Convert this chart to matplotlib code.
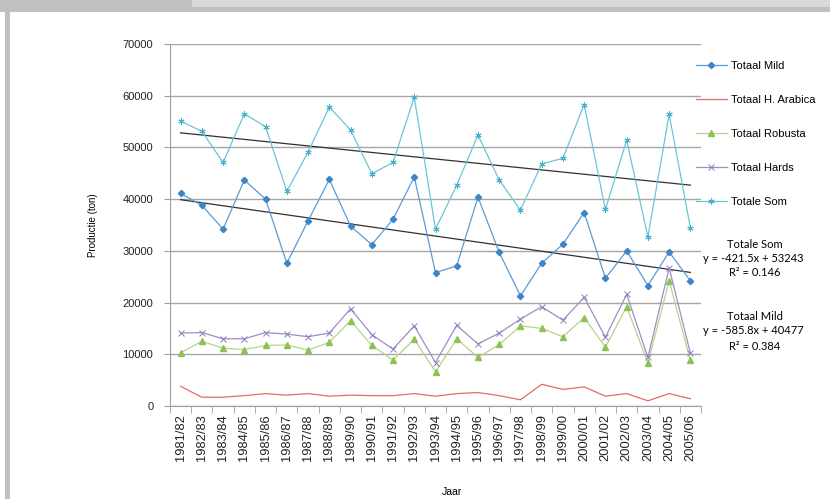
import matplotlib
matplotlib.use("Agg")
import matplotlib.pyplot as plt
from matplotlib.patches import Rectangle
import numpy as np

# harvest years
years = ["1981/82", "1982/83", "1983/84", "1984/85", "1985/86", "1986/87",
         "1987/88", "1988/89", "1989/90", "1990/91", "1991/92", "1992/93",
         "1993/94", "1994/95", "1995/96", "1996/97", "1997/98", "1998/99",
         "1999/00", "2000/01", "2001/02", "2002/03", "2003/04", "2004/05",
         "2005/06"]

# production per category (ton)
totaal_mild = [41100, 38800, 34200, 43700, 40000, 27600, 35800, 43800, 34800,
               31200, 36100, 44300, 25800, 27100, 40400, 29700, 21300, 27600,
               31300, 37400, 24700, 30000, 23300, 29800, 24200]
totaal_arabica = [3800, 1700, 1700, 2000, 2400, 2100, 2400, 1900, 2100, 2000,
                  2000, 2400, 1900, 2400, 2600, 2000, 1200, 4200, 3200, 3700,
                  1900, 2400, 1000, 2400, 1400]
totaal_robusta = [10300, 12500, 11200, 10900, 11700, 11800, 10800, 12300, 16500,
                  11700, 8900, 12900, 6600, 13000, 9400, 11900, 15500, 15000,
                  13400, 17100, 11400, 19200, 8300, 24200, 8800]
totaal_hards = [14100, 14200, 13000, 13000, 14200, 13900, 13400, 14100, 18800,
                13800, 11000, 15500, 8400, 15600, 12000, 14100, 16800, 19200,
                16600, 21000, 13300, 21600, 9400, 26700, 10200]
totale_som = [55100, 53100, 47100, 56500, 54000, 41500, 49100, 57800, 53400,
              44900, 47100, 59700, 34200, 42700, 52400, 43700, 37900, 46800,
              47900, 58300, 38000, 51400, 32700, 56400, 34500]

# linear trend lines (slope, intercept, R^2), x = 1..n
trend_som = (-421.5, 53243, 0.146)
trend_mild = (-585.8, 40477, 0.384)

fig = plt.figure(figsize=(8.30, 4.99), dpi=100)
plt.rcParams["font.family"] = ["Liberation Sans", "DejaVu Sans"]

# window frame around the chart
fig.patches.append(Rectangle((0, 1 - 12 / 499), 1, 12 / 499, transform=fig.transFigure,
                             facecolor="#c0c0c0", edgecolor="none", zorder=0))
fig.patches.append(Rectangle((192 / 830, 1 - 7 / 499), 1, 7 / 499, transform=fig.transFigure,
                             facecolor="#d9d9d9", edgecolor="none", zorder=1))
fig.patches.append(Rectangle((5 / 830, 0), 5 / 830, 1 - 12 / 499, transform=fig.transFigure,
                             facecolor="#c0c0c0", edgecolor="none", zorder=0))

ax = fig.add_axes([170 / 830, 1 - 406 / 499, 531 / 830, 362 / 499])
x = np.arange(len(years))

l_mild, = ax.plot(x, totaal_mild, color="#5b9bd5", lw=0.9, marker="D", ms=3.2,
                  mfc="#3d85c6", mec="#3d85c6", label="Totaal Mild")
l_arab, = ax.plot(x, totaal_arabica, color="#e06c66", lw=0.9, label="Totaal H. Arabica")
l_rob, = ax.plot(x, totaal_robusta, color="#b5d48a", lw=0.9, marker="^", ms=5,
                 mfc="#8dc253", mec="#8dc253", label="Totaal Robusta")
l_hard, = ax.plot(x, totaal_hards, color="#9e8dc6", lw=0.9, marker="x", ms=4.5,
                  mew=0.7, mec="#8e7bbd", label="Totaal Hards")
l_som, = ax.plot(x, totale_som, color="#6cc4d8", lw=0.9, marker=(6, 2, 0), ms=4.5,
                 mew=0.7, mec="#45b0cc", label="Totale Som")

xt = x + 1
for slope, icpt, r2 in (trend_som, trend_mild):
    ax.plot(x, slope * xt + icpt, color="#303030", lw=0.9, zorder=1)

ax.set_xlim(-0.5, len(years) - 0.5)
ax.set_ylim(0, 70000)
ax.set_yticks(range(0, 70001, 10000))
ax.yaxis.grid(True, color="#a6a6a6", lw=1)
ax.set_axisbelow(True)
ax.set_xticks(x)
ax.set_xticklabels(years, rotation=90, fontsize=9.3, color="#222222")
ax.set_xticks(np.arange(len(years) + 1) - 0.5, minor=True)
ax.tick_params(axis="x", which="major", length=0, pad=6)
ax.tick_params(axis="x", which="minor", length=5, color="#a0a0a0")
ax.tick_params(axis="y", length=4, color="#a0a0a0", labelsize=8, labelcolor="#222222", pad=8)
for side in ("top", "right"):
    ax.spines[side].set_visible(False)
for side in ("left", "bottom"):
    ax.spines[side].set_color("#a0a0a0")

ax.set_ylabel("Productie (ton)", fontsize=7, labelpad=18)
ax.set_xlabel("Jaar", fontsize=7.5)
ax.xaxis.set_label_coords(0.53, -0.225)

fig.legend(handles=[l_mild, l_arab, l_rob, l_hard, l_som], loc="upper left",
           bbox_to_anchor=(690 / 830, 1 - 55 / 499), frameon=False, fontsize=8,
           labelspacing=2.17, handlelength=2.8, handletextpad=0.4, borderpad=0)

eq_font = ["Lato", "DejaVu Sans"]
fig.text(755 / 830, 1 - 244 / 499, "Totale Som", ha="center", va="center",
         fontsize=8, family=eq_font)
fig.text(753 / 830, 1 - 258 / 499, "y = %.1fx + %d" % trend_som[:2], ha="center",
         va="center", fontsize=8, family=eq_font)
fig.text(755 / 830, 1 - 272 / 499, "R² = %.3f" % trend_som[2], ha="center",
         va="center", fontsize=8, family=eq_font)
fig.text(755 / 830, 1 - 316 / 499, "Totaal Mild", ha="center", va="center",
         fontsize=8, family=eq_font)
fig.text(753 / 830, 1 - 330 / 499, "y = %.1fx + %d" % trend_mild[:2], ha="center",
         va="center", fontsize=8, family=eq_font)
fig.text(755 / 830, 1 - 346 / 499, "R² = %.3f" % trend_mild[2], ha="center",
         va="center", fontsize=8, family=eq_font)

fig.savefig("out.png", dpi=100)
